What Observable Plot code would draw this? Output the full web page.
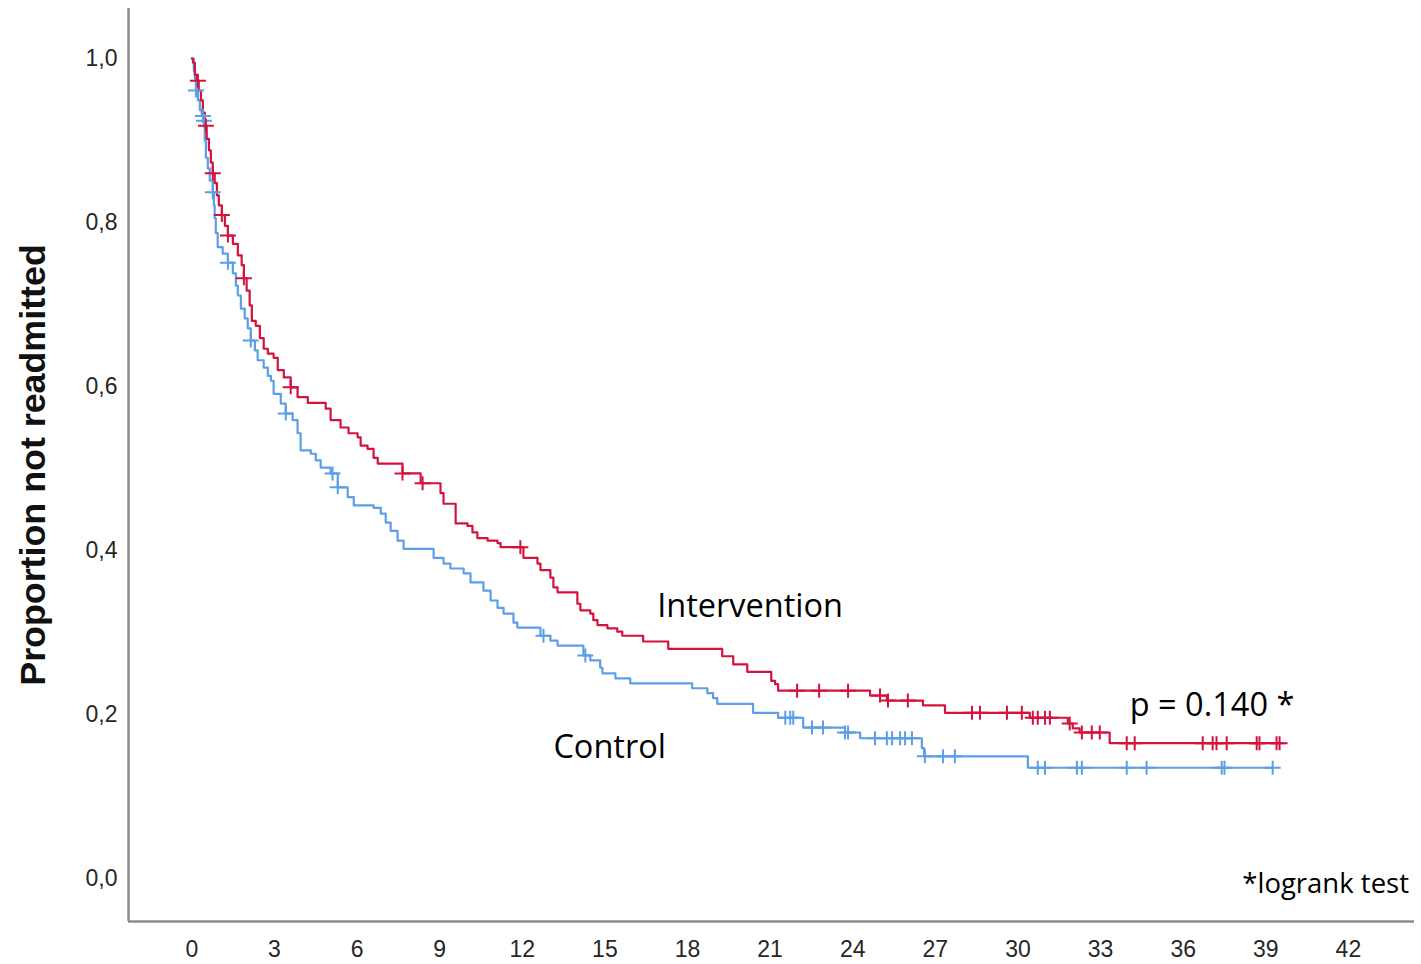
<!DOCTYPE html>
<html>
<head>
<meta charset="utf-8">
<script src="https://cdn.jsdelivr.net/npm/d3@7"></script>
<script src="https://cdn.jsdelivr.net/npm/@observablehq/plot@0.6"></script>
<style>
  html, body { margin: 0; padding: 0; background: #ffffff; }
  #chart svg { display: block; }
</style>
</head>
<body>
<div id="chart"></div>
<script>
// ---- Data ----
const xTicks = [0, 3, 6, 9, 12, 15, 18, 21, 24, 27, 30, 33, 36, 39, 42];
const yTicks = [0, 0.2, 0.4, 0.6, 0.8, 1.0];

// Kaplan–Meier steps: [time (months), proportion not readmitted]
const interventionSteps = [
  [0,1.0],[0.04,0.995],[0.11,0.980],[0.18,0.973],[0.25,0.961],[0.33,0.949],[0.40,0.934],[0.47,0.918],
  [0.54,0.902],[0.62,0.888],[0.69,0.873],[0.76,0.860],[0.83,0.848],[0.91,0.833],[0.98,0.821],[1.09,0.809],
  [1.20,0.796],[1.31,0.784],[1.49,0.774],[1.67,0.760],[1.81,0.748],[1.89,0.732],[1.99,0.717],[2.10,0.699],
  [2.18,0.680],[2.32,0.674],[2.47,0.659],[2.61,0.646],[2.76,0.640],[2.97,0.635],[3.12,0.620],[3.34,0.611],
  [3.59,0.599],[3.84,0.587],[4.21,0.580],[4.86,0.573],[5.04,0.559],[5.40,0.550],[5.69,0.543],[6.02,0.538],
  [6.13,0.528],[6.38,0.524],[6.60,0.513],[6.75,0.506],[7.65,0.494],[8.31,0.482],[9.03,0.470],[9.14,0.457],
  [9.58,0.433],[10.01,0.430],[10.19,0.422],[10.37,0.415],[10.74,0.412],[11.10,0.409],[11.21,0.404],[12.04,0.391],
  [12.55,0.384],[12.66,0.376],[13.02,0.367],[13.13,0.355],[13.28,0.349],[14.00,0.335],[14.11,0.327],[14.47,0.323],
  [14.58,0.315],[14.73,0.309],[15.09,0.305],[15.45,0.301],[15.63,0.296],[16.39,0.289],[17.30,0.280],[19.26,0.271],
  [19.66,0.261],[20.17,0.252],[21.04,0.241],[21.18,0.237],[21.29,0.229],[24.63,0.223],[25.24,0.217],[26.55,0.211],
  [27.35,0.202],[30.43,0.196],[31.81,0.189],[31.99,0.183],[32.24,0.178],[33.33,0.165],[39.5,0.165]
];
const controlSteps = [
  [0,1.0],[0.07,0.985],[0.11,0.975],[0.15,0.961],[0.22,0.949],[0.29,0.937],[0.36,0.930],[0.44,0.924],
  [0.47,0.900],[0.51,0.879],[0.58,0.866],[0.65,0.851],[0.76,0.837],[0.80,0.821],[0.83,0.805],[0.87,0.787],
  [0.94,0.770],[1.12,0.762],[1.31,0.751],[1.49,0.738],[1.60,0.723],[1.67,0.711],[1.78,0.695],[1.92,0.683],
  [2.03,0.671],[2.14,0.656],[2.29,0.644],[2.39,0.632],[2.61,0.623],[2.76,0.613],[2.87,0.607],[2.97,0.591],
  [3.23,0.579],[3.41,0.567],[3.66,0.559],[3.84,0.543],[3.95,0.522],[4.32,0.518],[4.50,0.510],[4.68,0.501],
  [5.04,0.494],[5.30,0.477],[5.66,0.465],[5.88,0.455],[6.60,0.452],[6.86,0.445],[7.04,0.434],[7.22,0.424],
  [7.47,0.412],[7.69,0.402],[8.78,0.391],[9.14,0.384],[9.39,0.378],[9.87,0.372],[10.12,0.361],[10.59,0.351],
  [10.85,0.339],[11.10,0.330],[11.32,0.323],[11.68,0.312],[11.82,0.306],[12.66,0.296],[13.02,0.290],[13.28,0.284],
  [14.22,0.272],[14.47,0.266],[14.83,0.257],[14.91,0.250],[15.38,0.244],[15.92,0.238],[18.17,0.232],[18.72,0.226],
  [18.93,0.220],[19.08,0.213],[20.38,0.202],[21.29,0.196],[22.20,0.184],[23.72,0.178],[24.27,0.171],[26.51,0.159],
  [26.59,0.149],[30.36,0.135],[39.25,0.135]
];

// Censoring times (months)
const interventionCensor = [0.22,0.51,0.76,1.09,1.31,1.89,3.59,7.65,8.38,11.93,21.98,22.78,23.83,24.99,25.28,26.0,
  28.33,28.62,29.6,30.14,30.54,30.72,30.98,31.16,31.88,32.32,32.68,32.97,33.95,34.24,36.71,37.07,37.21,37.58,
  38.67,38.77,39.39,39.5];
const controlCensor = [0.15,0.40,0.44,0.76,1.31,2.14,3.41,5.11,5.30,12.77,14.29,21.55,21.73,21.84,22.52,22.92,
  23.72,23.83,24.81,25.24,25.43,25.72,25.9,26.15,26.62,27.28,27.71,30.72,30.98,32.14,32.32,33.95,34.67,37.4,
  37.5,39.25];

const groups = ["Intervention", "Control"];
const groupColors = ["#d4123e", "#5c9fe6"];

// Annotation texts and the (time, proportion) where each sits
const annotationText = ["Intervention", "Control", "p = 0.140 *"];
const annotationAt = [[16.9, 0.332], [13.13, 0.160], [34.06, 0.211]];
const footnoteText = "*logrank test";
const footnoteAt = [44.2, -0.0073];
const yTitle = "Proportion not readmitted";

// ---- Build tables ----
const toRows = (steps, group) => steps.map(([t, s]) => ({group, t, s}));
const censorRows = (steps, times, group) => {
  const ts = steps.map(d => d[0]);
  return times.map(t => {
    const i = Math.max(0, d3.bisectRight(ts, t) - 1);
    return {group, t, s: steps[i][1]};
  });
};
const lineRows = [...toRows(controlSteps, "Control"), ...toRows(interventionSteps, "Intervention")];
const censorData = [...censorRows(controlSteps, controlCensor, "Control"),
                    ...censorRows(interventionSteps, interventionCensor, "Intervention")];
const annRows = annotationText.map((text, i) => ({text, t: annotationAt[i][0], s: annotationAt[i][1]}));

const xDomain = [-2.3, 44.4];
const yDomain = [-0.0525, 1.061];

const plusSymbol = {
  draw(ctx) {
    ctx.moveTo(-8, 0); ctx.lineTo(8, 0);
    ctx.moveTo(0, -7); ctx.lineTo(0, 7);
  }
};

const chart = Plot.plot({
  width: 1421,
  height: 964,
  marginLeft: 128,
  marginRight: 7,
  marginTop: 8,
  marginBottom: 43,
  style: {fontFamily: "'Liberation Sans', Arial, sans-serif", background: "#ffffff", overflow: "visible"},
  x: {domain: xDomain, axis: null},
  y: {domain: yDomain, axis: null},
  color: {domain: groups, range: groupColors},
  marks: [
    Plot.ruleX([xDomain[0]], {stroke: "#8c8c8c", strokeWidth: 2.5}),
    Plot.ruleY([yDomain[0]], {stroke: "#8c8c8c", strokeWidth: 2.5}),
    Plot.axisX(xTicks, {tickSize: 0, tickPadding: 19, fontSize: 23, fill: "#262626", label: null}),
    Plot.axisY(yTicks, {tickSize: 0, tickPadding: 11, fontSize: 23, fill: "#262626", label: null,
      tickFormat: d => d.toFixed(1).replace(".", ",")}),
    Plot.text([yTitle], {frameAnchor: "left", textAnchor: "middle", lineAnchor: "middle", dx: -95, rotate: -90,
      text: d => d, fontSize: 35.8, fontWeight: "bold", fill: "#111"}),
    Plot.line(lineRows, {x: "t", y: "s", z: "group", stroke: "group", curve: "step-after", strokeWidth: 2.2}),
    Plot.dot(censorData, {x: "t", y: "s", stroke: "group", symbol: plusSymbol, fill: "none", strokeWidth: 2, r: 8}),
    Plot.text(annRows, {x: "t", y: "s", text: "text", textAnchor: "start", fontSize: 32.5,
      fontFamily: "'Open Sans', sans-serif", fill: "#000"}),
    Plot.text([footnoteText], {x: () => footnoteAt[0], y: () => footnoteAt[1], text: d => d, textAnchor: "end",
      fontSize: 27.5, fontFamily: "'Open Sans', sans-serif", fill: "#000"})
  ]
});
document.getElementById("chart").appendChild(chart);
</script>
</body>
</html>
